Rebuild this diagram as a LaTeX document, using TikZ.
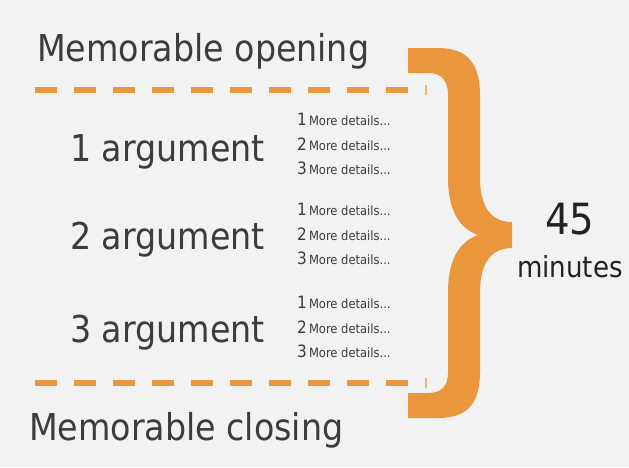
\documentclass[tikz,border=0pt]{standalone}
\usepackage{fontspec}
\setmainfont{DejaVu Sans Condensed}
\definecolor{bg}{HTML}{F2F2F2}
\definecolor{org}{HTML}{EA963C}
\definecolor{txt}{HTML}{3C3C3C}
\definecolor{dark}{HTML}{222222}
\tikzset{
  big/.style={anchor=base west,inner sep=0pt,text=txt,font=\fontsize{37}{42}\selectfont},
  arg/.style={anchor=base west,inner sep=0pt,text=txt,font=\fontsize{37}{42}\selectfont},
  det/.style={anchor=base west,inner sep=0pt,text=txt,font=\fontsize{12.8}{15}\selectfont},
  dashline/.style={draw=org,line width=6pt,dash pattern=on 22pt off 17pt},
  tick/.style={draw=org!70,line width=1.2pt},
}
\newcommand{\dline}[1]{{\fontsize{17}{17}\selectfont #1}\,More details...}
\begin{document}
\begin{tikzpicture}[x=1pt,y=-1pt]
\fill[bg] (0,0) rectangle (629,467);
\useasboundingbox (0,0) rectangle (629,467);
% texts
\node[big] (open) at (37,61) {Memorable opening};
\node[big] (close) at (29,440) {Memorable closing};
\node[arg] (a1) at (70,161) {1 argument};
\node[arg] (a2) at (70,249) {2 argument};
\node[arg] (a3) at (70,342) {3 argument};
\foreach \b/\y in {a/125,b/215,c/308}{
  \node[det] (\b1) at (297,\y) {\dline{1}};
  \node[det] (\b2) at (297,\y+25) {\dline{2}};
  \node[det] (\b3) at (297,\y+49) {\dline{3}};
}
\node[anchor=base,inner sep=0pt,text=dark,font=\fontsize{43}{46}\selectfont] (n45) at (570,234) {45};
\node[anchor=base,inner sep=0pt,text=dark,font=\fontsize{29}{32}\selectfont] (mins) at (570,277) {minutes};
% dashed lines
\draw[dashline] (35,90) -- (409,90);
\draw[dashline] (35,383) -- (409,383);
\draw[tick] (426,85) -- (426,95);
\draw[tick] (426,378) -- (426,388);
% brace
\fill[org] (408,48) -- (438,48) .. controls (466,48) and (480,62) .. (480,95)
  -- (480,178) .. controls (480,208) and (492,222) .. (512,222)
  -- (512,248) .. controls (492,248) and (480,262) .. (480,292)
  -- (480,372) .. controls (480,405) and (466,418) .. (438,418)
  -- (408,418) -- (408,393) -- (428,393) .. controls (442,393) and (448,386) .. (448,372)
  -- (448,292) .. controls (448,262) and (458,242) .. (478,235)
  .. controls (458,228) and (448,208) .. (448,178)
  -- (448,95) .. controls (448,81) and (442,73) .. (428,73) -- (408,73) -- cycle;
\end{tikzpicture}
\end{document}
